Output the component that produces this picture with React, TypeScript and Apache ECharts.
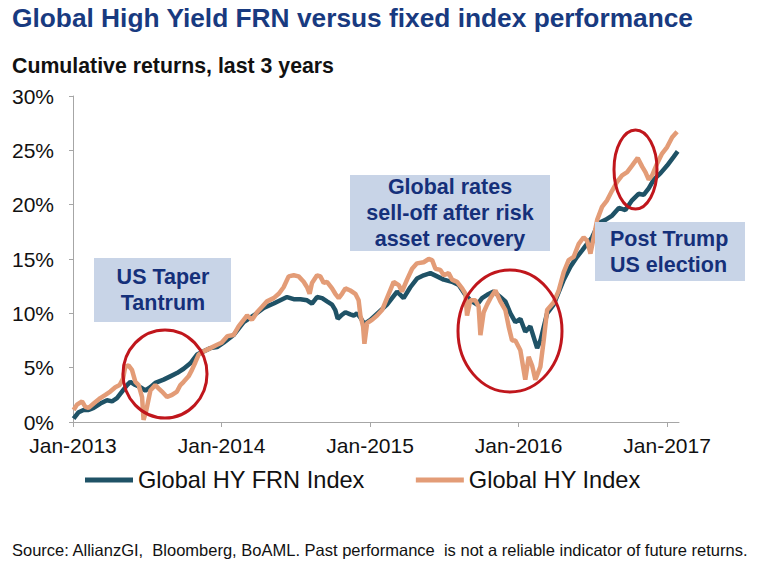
import React, { useEffect, useRef } from "react";
import * as echarts from "echarts";

// Time in decimal years, returns in %
const frnTime = [
  2013.004, 2013.038, 2013.071, 2013.105, 2013.139, 2013.184, 2013.229, 2013.263, 2013.296, 2013.33,
  2013.364, 2013.386, 2013.42, 2013.453, 2013.487, 2013.521, 2013.554, 2013.61, 2013.655, 2013.7,
  2013.745, 2013.79, 2013.835, 2013.879, 2013.925, 2013.97, 2014.014, 2014.081, 2014.149, 2014.216,
  2014.284, 2014.351, 2014.396, 2014.441, 2014.486, 2014.531, 2014.576, 2014.609, 2014.643, 2014.677,
  2014.71, 2014.744, 2014.766, 2014.782, 2014.805, 2014.834, 2014.867, 2014.89, 2014.912, 2014.935,
  2014.962, 2014.98, 2015.002, 2015.114, 2015.182, 2015.226, 2015.271, 2015.316, 2015.361, 2015.406,
  2015.451, 2015.496, 2015.552, 2015.597, 2015.642, 2015.675, 2015.721, 2015.754, 2015.788, 2015.832,
  2015.877, 2015.911, 2015.945, 2015.978, 2016.012, 2016.045, 2016.079, 2016.125, 2016.147, 2016.192,
  2016.236, 2016.304, 2016.349, 2016.394, 2016.428, 2016.461, 2016.495, 2016.539, 2016.585, 2016.63,
  2016.675, 2016.719, 2016.764, 2016.808, 2016.842, 2016.876, 2016.91, 2016.956, 2017.0, 2017.044,
  2017.071,
];
const frnReturn = [
  0.3, 0.9, 1.1, 1.1, 1.3, 1.7, 2.0, 1.9, 2.2, 2.8,
  3.4, 3.7, 3.4, 3.2, 2.9, 3.2, 3.6, 3.9, 4.2, 4.5,
  4.9, 5.4, 6.2, 6.5, 6.8, 6.9, 7.3, 8.0, 9.2, 9.8,
  10.5, 10.9, 11.2, 11.5, 11.3, 11.3, 11.2, 10.9, 11.5, 11.4,
  11.1, 10.8, 10.3, 9.5, 9.8, 10.1, 9.9, 9.8, 10.0, 9.6,
  9.0, 9.2, 9.4, 10.8, 12.0, 11.4, 12.4, 13.2, 13.5, 13.7,
  13.4, 13.1, 12.9, 12.6, 11.7, 11.2, 10.8, 11.4, 11.7, 12.0,
  11.5, 11.1, 10.0, 9.2, 9.5, 8.3, 8.8, 6.8, 7.5, 10.0,
  10.8, 13.1, 14.3, 15.2, 15.8, 16.4, 17.0, 18.3, 18.6, 19.0,
  19.7, 19.5, 20.4, 21.0, 20.9, 21.5, 22.3, 22.9, 23.6, 24.4,
  24.9,
];

const hyTime = [
  2013.004, 2013.027, 2013.061, 2013.083, 2013.105, 2013.139, 2013.184, 2013.218, 2013.251, 2013.285,
  2013.314, 2013.337, 2013.352, 2013.374, 2013.397, 2013.42, 2013.442, 2013.465, 2013.475, 2013.494,
  2013.521, 2013.554, 2013.576, 2013.599, 2013.633, 2013.667, 2013.7, 2013.723, 2013.745, 2013.778,
  2013.801, 2013.824, 2013.846, 2013.879, 2013.925, 2013.97, 2014.0, 2014.039, 2014.081, 2014.115,
  2014.149, 2014.172, 2014.205, 2014.239, 2014.273, 2014.306, 2014.351, 2014.385, 2014.418, 2014.452,
  2014.486, 2014.519, 2014.553, 2014.576, 2014.593, 2014.609, 2014.643, 2014.665, 2014.688, 2014.71,
  2014.744, 2014.766, 2014.789, 2014.811, 2014.834, 2014.867, 2014.901, 2014.923, 2014.935, 2014.953,
  2014.962, 2014.98, 2015.013, 2015.047, 2015.081, 2015.114, 2015.159, 2015.193, 2015.215, 2015.249,
  2015.283, 2015.316, 2015.361, 2015.395, 2015.418, 2015.44, 2015.473, 2015.496, 2015.529, 2015.552,
  2015.586, 2015.62, 2015.642, 2015.653, 2015.675, 2015.709, 2015.731, 2015.743, 2015.765, 2015.788,
  2015.815, 2015.844, 2015.877, 2015.911, 2015.933, 2015.956, 2015.978, 2016.012, 2016.045, 2016.068,
  2016.091, 2016.113, 2016.147, 2016.169, 2016.192, 2016.236, 2016.27, 2016.304, 2016.337, 2016.371,
  2016.405, 2016.438, 2016.461, 2016.484, 2016.506, 2016.529, 2016.562, 2016.596, 2016.63, 2016.663,
  2016.697, 2016.731, 2016.764, 2016.802, 2016.832, 2016.854, 2016.876, 2016.899, 2016.933, 2016.966,
  2017.0, 2017.034, 2017.067,
];
const hyReturn = [
  1.1, 1.6, 1.9, 1.4, 1.3, 1.7, 2.2, 2.5, 2.8, 3.2,
  3.4, 4.0, 5.1, 5.2, 4.8, 3.7, 3.4, 2.3, 0.2, 1.1,
  2.9, 3.4, 3.1, 2.8, 2.3, 2.5, 2.8, 3.4, 3.7, 4.2,
  4.8, 5.5, 6.2, 6.5, 6.8, 7.1, 7.3, 7.9, 8.0, 8.8,
  9.4, 9.8, 9.4, 10.1, 10.6, 11.1, 11.4, 11.8, 12.4, 13.4,
  13.5, 13.4, 12.9, 12.4, 11.8, 12.8, 13.5, 13.4, 12.8, 12.9,
  12.3, 11.8, 11.4, 11.8, 12.3, 12.1, 11.8, 11.2, 9.8, 8.8,
  7.2, 9.1, 9.4, 9.8, 10.3, 11.4, 12.9, 12.6, 12.0, 13.1,
  14.1, 14.6, 14.7, 15.0, 14.9, 14.1, 14.0, 13.5, 13.7, 13.1,
  12.9, 12.3, 11.8, 9.8, 11.2, 11.2, 10.6, 8.0, 10.1, 10.8,
  11.5, 12.1, 11.1, 10.3, 8.8, 7.5, 7.5, 6.6, 3.9, 6.0,
  5.2, 3.9, 5.1, 7.5, 10.3, 11.0, 12.1, 13.8, 14.9, 15.2,
  16.4, 17.0, 16.7, 15.5, 17.0, 18.6, 19.8, 20.4, 21.3, 22.1,
  22.7, 23.0, 23.6, 24.3, 23.5, 23.0, 22.3, 22.7, 23.8, 24.7,
  25.3, 26.2, 26.7,
];

const yearTicks = [2013, 2014, 2015, 2016, 2017];
const seriesNames = ["Global HY FRN Index", "Global HY Index"];

const FONT = "'Liberation Sans', Arial, sans-serif";
const NAVY = "#15307a";
const BOX = "#c8d4e7";
const RED = "#c0161c";

export default function App() {
  const ref = useRef<HTMLDivElement>(null);
  useEffect(() => {
    if (!ref.current) return;
    const chart = echarts.init(ref.current, null, { renderer: "svg" });
    const zip = (t: number[], v: number[]) => t.map((x, i) => [x, v[i]]);
    const box = (x: number, y: number, w: number, h: number, text: string, tx: number, align: string) => ({
      type: "group",
      z: 100,
      children: [
        { type: "rect", shape: { x, y, width: w, height: h }, style: { fill: BOX }, z: 100 },
        {
          type: "text",
          x: tx,
          y: y + h / 2,
          z: 101,
          style: {
            text,
            fill: NAVY,
            font: `bold 21.5px ${FONT}`,
            align,
            verticalAlign: "middle",
            lineHeight: 26,
          },
        },
      ],
    });
    const ell = (cx: number, cy: number, rx: number, ry: number) => ({
      type: "ellipse",
      z: 110,
      shape: { cx, cy, rx, ry },
      style: { fill: "none", stroke: RED, lineWidth: 3 },
    });
    chart.setOption({
      animation: false,
      backgroundColor: "#ffffff",
      title: [
        {
          text: "Global High Yield FRN versus fixed index performance",
          left: 12,
          top: 5,
          padding: 0,
          textStyle: { fontFamily: FONT, fontSize: 26.3, fontWeight: "bold", color: "#183a80" },
        },
        {
          text: "Cumulative returns, last 3 years",
          left: 12,
          top: 55,
          padding: 0,
          textStyle: { fontFamily: FONT, fontSize: 21.3, fontWeight: "bold", color: "#111111" },
        },
      ],
      grid: { left: 73, right: 81, top: 96, bottom: 152, containLabel: false },
      xAxis: {
        type: "value",
        min: 2013,
        max: 2017.08,
        interval: 1,
        splitLine: { show: false },
        axisLine: { show: true, lineStyle: { color: "#a6a6a6", width: 1 } },
        axisTick: { show: true, length: 5, customValues: yearTicks, lineStyle: { color: "#a6a6a6" } },
        axisLabel: {
          customValues: yearTicks,
          formatter: (v: number) => "Jan-" + Math.round(v),
          fontFamily: FONT,
          fontSize: 21,
          color: "#111111",
          margin: 13,
        },
      },
      yAxis: {
        type: "value",
        min: 0,
        max: 30,
        interval: 5,
        splitLine: { show: false },
        axisLine: { show: true, lineStyle: { color: "#a6a6a6", width: 1 } },
        axisTick: { show: true, length: 4, lineStyle: { color: "#a6a6a6" } },
        axisLabel: {
          formatter: "{value}%",
          fontFamily: FONT,
          fontSize: 21,
          color: "#111111",
          margin: 19,
        },
      },
      legend: {
        data: seriesNames,
        left: 80,
        top: 463,
        icon: "rect",
        itemWidth: 48,
        itemHeight: 5,
        itemGap: 51,
        textStyle: { fontFamily: FONT, fontSize: 23.6, color: "#111111" },
      },
      series: [
        {
          name: seriesNames[0],
          type: "line",
          data: zip(frnTime, frnReturn),
          showSymbol: false,
          symbol: "none",
          color: "#1f5266",
          lineStyle: { width: 4.5, color: "#1f5266" },
          z: 2,
        },
        {
          name: seriesNames[1],
          type: "line",
          data: zip(hyTime, hyReturn),
          showSymbol: false,
          symbol: "none",
          color: "#e39c77",
          lineStyle: { width: 4.5, color: "#e39c77" },
          z: 3,
        },
      ],
      graphic: [
        box(94, 258, 137, 64, "US Taper\nTantrum", 163, "center"),
        box(350, 175, 200, 76, "Global rates\nsell-off after risk\nasset recovery", 450, "center"),
        box(595, 222, 150, 59, "Post Trump\nUS election", 610, "left"),
        ell(165, 374, 42, 44),
        ell(510, 331, 52, 61),
        ell(635.5, 169.5, 21.5, 39.5),
        {
          type: "text",
          x: 12,
          y: 550,
          style: {
            text: "Source: AllianzGI,  Bloomberg, BoAML. Past performance  is not a reliable indicator of future returns.",
            fill: "#111111",
            font: `16.5px ${FONT}`,
            verticalAlign: "middle",
          },
        },
      ],
    });
    return () => chart.dispose();
  }, []);
  return (
    <div
      ref={ref}
      style={{ position: "fixed", left: 0, top: 0, width: 760, height: 574, background: "#fff" }}
    />
  );
}
